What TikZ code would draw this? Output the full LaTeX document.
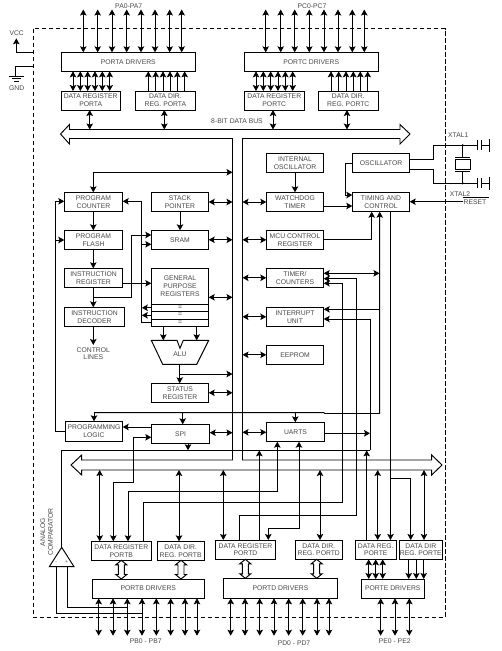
\documentclass[tikz,border=0pt]{standalone}
\usepackage{fontspec}
\setmainfont{Liberation Sans}
\usetikzlibrary{arrows.meta}
\tikzset{
  wire/.style={line width=0.95pt,line join=miter},
  arr/.style={wire,-{Stealth[length=6pt,width=6.5pt,inset=1.2pt]}},
  rarr/.style={wire,{Stealth[length=6pt,width=6.5pt,inset=1.2pt]}-},
  dbl/.style={wire,{Stealth[length=6pt,width=6.5pt,inset=1.2pt]}-{Stealth[length=6pt,width=6.5pt,inset=1.2pt]}},
  lbl/.style={font=\fontsize{6.8pt}{7.8pt}\selectfont,text=black!72,align=center,inner sep=0pt},
  blk/.style={lbl,draw=black,line width=0.95pt,inner sep=0pt,outer sep=0pt},
}
\newcommand{\blkbox}[6]{\node[blk,minimum width={(#4-#2)*1pt},minimum height={(#5-#3)*1pt}] (#1) at ({(#2+#4)/2},{(#3+#5)/2}) {#6};}
\newcommand{\hollowarrow}[3]{\draw[wire,fill=white] (#1-3,#2+4.5) -- (#1-5.5,#2+4.5) -- (#1,#2) -- (#1+5.5,#2+4.5) -- (#1+3,#2+4.5) -- (#1+3,#3-4.5) -- (#1+5.5,#3-4.5) -- (#1,#3) -- (#1-5.5,#3-4.5) -- (#1-3,#3-4.5) -- cycle;}
\begin{document}
\begin{tikzpicture}[x=1pt,y=-1pt]
\useasboundingbox (0,0) rectangle (501,651);
% frame
\draw[wire,dash pattern=on 4.5pt off 2.5pt] (33.5,28.5) rectangle (445,617.3);
% bus
\draw[wire] (60.5,134) -- (69.5,124.5) -- (69.5,129.5) -- (400,129.5) -- (400,124.5) -- (410,134) -- (400,144) -- (400,138.5) -- (242.5,138.5) -- (242.5,460) -- (431.7,460) -- (431.7,455) -- (442,465) -- (431.7,475) -- (431.7,470) -- (81.7,470) -- (81.7,475) -- (71,465) -- (81.7,455) -- (81.7,460) -- (232.5,460) -- (232.5,138.5) -- (69.5,138.5) -- (69.5,144) -- cycle;
\coordinate (busT) at (0,129.5);
\coordinate (busB) at (0,470);
\coordinate (busL) at (232.5,0);
\coordinate (busR) at (242.5,0);
% blocks
\blkbox{drvA}{61.3}{52.3}{195.3}{71.3}{PORTA DRIVERS}
\blkbox{regA}{61.3}{91}{120}{110}{DATA REGISTER\\PORTA}
\blkbox{dirA}{135.5}{91}{195.3}{110}{DATA DIR.\\REG. PORTA}
\blkbox{drvC}{244.3}{52.3}{378.3}{71.3}{PORTC DRIVERS}
\blkbox{regC}{244.3}{91}{304.3}{110}{DATA REGISTER\\PORTC}
\blkbox{dirC}{318.3}{91}{378.3}{110}{DATA DIR.\\REG. PORTC}
\blkbox{pc}{64.3}{192.3}{122.7}{211.7}{PROGRAM\\COUNTER}
\blkbox{flash}{64.3}{230.3}{122.7}{249.3}{PROGRAM\\FLASH}
\blkbox{ir}{64.3}{268.3}{122.7}{287.3}{INSTRUCTION\\REGISTER}
\blkbox{dec}{64.3}{307.3}{124.7}{326.3}{INSTRUCTION\\DECODER}
\blkbox{sp}{151.3}{192.3}{208.7}{211.7}{STACK\\POINTER}
\blkbox{sram}{151.3}{230.3}{208.7}{249.3}{SRAM}
\blkbox{gp}{151.3}{268.3}{208.7}{304.3}{GENERAL\\PURPOSE\\REGISTERS}
\blkbox{gpx}{151.3}{304.3}{208.7}{311.3}{=}
\blkbox{gpy}{151.3}{311.3}{208.7}{319.3}{=}
\blkbox{gpz}{151.3}{319.3}{208.7}{326.3}{=}
\blkbox{stat}{151.3}{383.3}{208.7}{402.3}{STATUS\\REGISTER}
\blkbox{prog}{65.3}{421.3}{122.7}{441.3}{PROGRAMMING\\LOGIC}
\blkbox{spi}{151.3}{424.3}{209.7}{443.3}{SPI}
\blkbox{intosc}{266.3}{153.3}{323.7}{172.3}{INTERNAL\\OSCILLATOR}
\blkbox{wd}{266.3}{192.3}{323.7}{211.7}{WATCHDOG\\TIMER}
\blkbox{mcu}{266.3}{230.3}{323.7}{249.3}{MCU CONTROL\\REGISTER}
\blkbox{timer}{266.3}{268.3}{323.7}{287.3}{TIMER/\\COUNTERS}
\blkbox{intr}{266.3}{307.3}{323.7}{326.3}{INTERRUPT\\UNIT}
\blkbox{eep}{266.3}{345.3}{323.7}{364.3}{EEPROM}
\blkbox{uart}{266.3}{422.3}{324.7}{441.7}{UARTS}
\blkbox{osc}{352.3}{153.3}{409.7}{172.3}{OSCILLATOR}
\blkbox{tim}{352.3}{192.3}{409.7}{211.7}{TIMING AND\\CONTROL}
\blkbox{regB}{91.3}{541.3}{151.3}{560.3}{DATA REGISTER\\PORTB}
\blkbox{dirB}{157.3}{541.3}{204}{560.3}{DATA DIR.\\REG. PORTB}
\blkbox{drvB}{92.3}{579}{204.3}{598.3}{PORTB DRIVERS}
\blkbox{regD}{215.3}{540}{275.7}{559.3}{DATA REGISTER\\PORTD}
\blkbox{dirD}{295.3}{540}{342.3}{559.3}{DATA DIR.\\REG. PORTD}
\blkbox{drvD}{223.3}{578.3}{337.7}{598.3}{PORTD DRIVERS}
\blkbox{regE}{355.3}{540}{396.3}{559.3}{DATA REG.\\PORTE}
\blkbox{dirE}{399.3}{540}{442.3}{559.3}{DATA DIR\\REG. PORTE}
\blkbox{drvE}{361.3}{579}{424.3}{598.3}{PORTE DRIVERS}
% ALU
\draw[wire] (151.3,340.3) -- (177,340.3) -- (180,348.3) -- (183.3,340.3) -- (208.7,340.3) -- (196.7,364.3) -- (162.7,364.3) -- cycle;
\node[lbl] (alu) at (180,354.5) {ALU};
\coordinate (aluL) at (163.3,340.3);
\coordinate (aluR) at (196.7,340.3);
\coordinate (aluB) at (179.7,364.3);
% labels
\node[lbl] (lblA) at (128.7,6.3) {PA0-PA7};
\node[lbl] (lblC) at (312,6.3) {PC0-PC7};
\node[lbl] (lblBus) at (237,121.3) {8-BIT DATA BUS};
\node[lbl] (ctl) at (93.3,353.7) {CONTROL\\LINES};
\node[lbl] (lblB) at (145.7,641.3) {PB0 - PB7};
\node[lbl] (lblD) at (294,643.3) {PD0 - PD7};
\node[lbl] (lblE) at (394.7,641.3) {PE0 - PE2};
\node[lbl] (vcc) at (16.7,33.3) {VCC};
\node[lbl] (gnd) at (16.7,88.3) {GND};
\node[lbl] (x1) at (458.3,135.3) {XTAL1};
\node[lbl] (x2) at (460,193.7) {XTAL2};
\node[lbl] (rst) at (475,202.3) {RESET};
\node[lbl,rotate=90] (cmp) at (46.7,532) {ANALOG\\COMPARATOR};
% top pins
\foreach \x in {83.3,97.7,112,126.7,141,155,169.7,181.7}{\draw[dbl] (\x,9.5) -- (\x,0 |- drvA.north);}
\foreach \x in {265.7,280.7,294.7,309.3,324,338,352.3,364.3}{\draw[dbl] (\x,9.5) -- (\x,0 |- drvC.north);}
\foreach \x in {73,80.3,87.7,95,102.3,109.7}{\draw[dbl] (\x,0 |- drvA.south) -- (\x,0 |- regA.north);}
\foreach \x in {148.3,155.7,163,170,177.3,184.7}{\draw[rarr] (\x,0 |- drvA.south) -- (\x,0 |- dirA.north);}
\foreach \x in {256,263.3,270.7,278,285.3,292.7}{\draw[dbl] (\x,0 |- drvC.south) -- (\x,0 |- regC.north);}
\foreach \x in {331,338.7,346,353.3,360.3,367.7}{\draw[rarr] (\x,0 |- drvC.south) -- (\x,0 |- dirC.north);}
\draw[dbl] (89.7,0 |- regA.south) -- (89.7,0 |- busT);
\draw[dbl] (164.3,0 |- dirA.south) -- (164.3,0 |- busT);
\draw[dbl] (273,0 |- regC.south) -- (273,0 |- busT);
\draw[dbl] (347,0 |- dirC.south) -- (347,0 |- busT);
% VCC GND
\draw[arr] (33.5,52.3) -- (16.3,52.3) -- (16.3,38.3);
\draw[wire] (33.5,66.7) -- (15.7,66.7) -- (15.7,76.3);
\draw[wire] (9,76.3) -- (24,76.3) (12,78.7) -- (21,78.7) (14,81) -- (19,81);
% left column
\draw[dbl] (93.3,0 |- pc.north) -- (93.3,172.3) -- (busL |- 0,172.3);
\draw[dbl] (sp.east) -- (busL |- sp.east);
\draw[dbl] (sram.east) -- (busL |- sram.east);
\draw[dbl] (gp.east |- 0,297.3) -- (busL |- 0,297.3);
\draw[dbl] (stat.east) -- (busL |- stat.east);
\draw[dbl] (spi.east |- 0,432.7) -- (busL |- 0,432.7);
\draw[arr] (93.3,0 |- pc.south) -- (93.3,0 |- flash.north);
\draw[arr] (93.3,0 |- flash.south) -- (93.3,0 |- ir.north);
\draw[arr] (93.3,0 |- ir.south) -- (93.3,0 |- dec.north);
\draw[arr] (93.3,0 |- dec.south) -- (93.3,345);
\draw[arr] (sp.south) -- (sram.north);
\draw[arr] (ir.east |- 0,283.3) -- (gp.west |- 0,283.3);
\draw[arr] (93.3,297.3) -- (131.7,297.3) -- (131.7,235) -- (sram.west |- 0,235);
\draw[wire] (gpz.west) -- (141.3,0 |- gpz.west) -- (141.3,201.3);
\draw[arr] (141.3,201.3) -- (pc.east |- 0,201.3);
\draw[arr] (141.3,244.3) -- (sram.west |- 0,244.3);
\draw[arr] (gpx.west) -- (141.8,0 |- gpx.west);
\draw[arr] (gpy.west) -- (141.8,0 |- gpy.west);
\draw[arr] (163.3,0 |- gpz.south) -- (aluL);
\draw[arr] (196.7,0 |- gpz.south) -- (aluR);
\draw[arr] (aluB) -- (179.7,0 |- stat.north);
\draw[arr] (179.7,374) -- (busL |- 0,374);
\draw[wire] (prog.west) -- (55.7,0 |- prog.west) -- (55.7,201.3);
\draw[arr] (55.7,201.3) -- (pc.west |- 0,201.3);
\draw[arr] (55.7,240) -- (flash.west |- 0,240);
\draw[arr] (spi.west |- 0,427) -- (prog.east |- 0,427);
% right column
\foreach \n in {wd,mcu,timer,intr,eep}{\draw[dbl] (busR |- \n.west) -- (\n.west);}
\draw[dbl] (busR |- 0,432.3) -- (uart.west |- 0,432.3);
\draw[arr] (intosc.south) -- (wd.north);
\draw[arr] (wd.east |- 0,206) -- (tim.west |- 0,206);
\draw[arr] (osc.west |- 0,163.3) -- (345.7,163.3) -- (345.7,195) -- (tim.west |- 0,195);
\draw[arr] (mcu.east) -- (371.7,0 |- mcu.east) -- (371.7,0 |- tim.south);
\draw[arr] (rst.west |- 0,201.7) -- (tim.east |- 0,201.7);
% line from timing to programming logic
\draw[rarr] (379.7,0 |- tim.south) -- (379.7,413.5) -- (324.7,413.5) -- (324,412.7) -- (94,412.7);
\draw[arr] (94,412.7) -- (94,0 |- prog.north);
\draw[arr] (182.7,412.7) -- (182.7,0 |- spi.north);
\draw[arr] (295.3,412.7) -- (295.3,0 |- uart.north);
\draw[dbl] (timer.east |- 0,273.3) -- (379.5,273.3);
\draw[arr] (379.7,309.3) -- (intr.east |- 0,309.3);
\draw[arr] (370.3,450.3) -- (370.3,319) -- (intr.east |- 0,319);
\draw[arr] (spi.south -| 188,0) -- (188,450.3);
\draw[wire] (370.3,450.3) -- (61.7,450.3) -- (61.7,547.3);
\draw[arr] (uart.east |- 0,433.3) -- (370,433.3);
% timer inputs from port registers
\draw[arr] (239.3,0 |- regD.north) -- (239.3,515) -- (356.3,515) -- (356.3,278.7) -- (timer.east |- 0,278.7);
\draw[arr] (143.3,0 |- regB.north) -- (143.3,502) -- (342.3,502) -- (342.3,283.3) -- (timer.east |- 0,283.3);
\draw[dbl] (128,0 |- regB.north) -- (128,491.3) -- (277.3,491.3) -- (277.3,0 |- uart.south);
\draw[dbl] (268.3,0 |- regD.north) -- (268.3,528.3) -- (299,528.3) -- (299,0 |- uart.south);
\draw[dbl] (113.3,0 |- regB.north) -- (113.3,482.7) -- (133.3,482.7) -- (133.3,437.3) -- (spi.west |- 0,437.3);
% bus to bottom registers
\draw[dbl] (99.7,0 |- busB) -- (99.7,0 |- regB.north);
\draw[dbl] (179,0 |- busB) -- (179,0 |- dirB.north);
\draw[dbl] (223.3,0 |- busB) -- (223.3,0 |- regD.north);
\draw[dbl] (320,0 |- busB) -- (320,0 |- dirD.north);
\draw[dbl] (377.7,0 |- busB) -- (377.7,0 |- regE.north);
\draw[dbl] (424,0 |- busB) -- (424,0 |- dirE.north);
\draw[rarr] (259.3,450.3) -- (259.3,0 |- regD.north);
\draw[rarr] (366.7,450.3) -- (366.7,0 |- regE.north);
\draw[arr] (390.5,0 |- tim.south) -- (390.5,0 |- regE.north);
\draw[arr] (390.5,478) -- (410.7,478) -- (410.7,0 |- dirE.north);
% hollow arrows
\hollowarrow{121.3}{560.3}{579}
\hollowarrow{181}{560.3}{579}
\hollowarrow{245.3}{559.3}{578.3}
\hollowarrow{316.7}{559.3}{578.3}
% port E
\foreach \x in {368.7,375.7,382.7}{\draw[dbl] (\x,0 |- regE.south) -- (\x,0 |- drvE.north);}
\foreach \x in {408.7,416.3,423.7}{\draw[arr] (\x,0 |- dirE.south) -- (\x,0 |- drvE.north);}
% bottom pins
\foreach \x in {98.7,113,127.3,142,156.3,170.7,185,197}{\draw[dbl] (\x,0 |- drvB.south) -- (\x,635.7);}
\foreach \x in {230.7,245,259.7,274,288.7,302.7,317,329}{\draw[dbl] (\x,0 |- drvD.south) -- (\x,635.7);}
\foreach \x in {380.7,395,409.3}{\draw[dbl] (\x,0 |- drvE.south) -- (\x,635.7);}
% comparator
\draw[wire] (61.7,547.3) -- (74,566.7) -- (49.3,566.7) -- cycle;
\node[lbl,font=\fontsize{5pt}{6pt}\selectfont] (cp) at (66.7,562.5) {+};
\node[lbl,font=\fontsize{5pt}{6pt}\selectfont] (cm) at (56.3,562.5) {-};
\draw[wire] (67.3,566.7) -- (67.3,607.7) -- (127.3,607.7);
\draw[wire] (56.3,566.7) -- (56.3,613.7) -- (142,613.7);
% oscillator
\coordinate (c1) at (477.7,145.3);
\coordinate (c2) at (477.7,183.3);
\draw[wire] (osc.east |- 0,159.3) -- (433.7,159.3) -- (433.7,145.3) -- (c1);
\draw[wire] (osc.east |- 0,169.3) -- (433.7,169.3) -- (433.7,183.3) -- (c2);
\draw[wire] (462.7,145.3) -- (462.7,157.3) (455.3,157.3) -- (470.3,157.3);
\draw[wire] (462.7,183.3) -- (462.7,171.8) (455.3,171.8) -- (470.3,171.8);
\draw[wire] (455.3,159.7) rectangle (470.3,169.8);
\fill (462.7,145.3) circle (1.2pt) (462.7,183.3) circle (1.2pt);
\foreach \y in {145.3,183.3}{
  \draw[wire] (477.7,\y-5) -- (477.7,\y+5) (481,\y-5) -- (481,\y+5) (481,\y) -- (489.3,\y) (489.3,\y-6.5) -- (489.3,\y+6.5);
}
% reset overline
\draw[wire] (463.3,197.3) -- (488.7,197.3);
\end{tikzpicture}
\end{document}
